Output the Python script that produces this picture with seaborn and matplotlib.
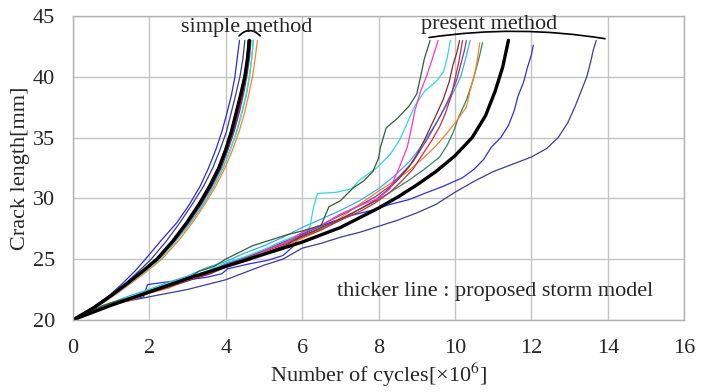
import matplotlib
matplotlib.use("Agg")
import matplotlib.pyplot as plt
import seaborn as sns
import pandas as pd

# ---- simple method: cycles (x10^6) at which each crack length level is reached
simple_levels = [20, 21, 22, 23, 24, 25, 26.5, 28, 29.5, 31, 32.5, 34, 35.5, 37, 38.5, 40, 41.5, 43]
simple_blue = [0, 0.50, 0.95, 1.30, 1.62, 1.90, 2.30, 2.72, 3.05, 3.33, 3.55, 3.74, 3.90, 4.03, 4.15, 4.24, 4.30, 4.36]
simple_navy = [0, 0.52, 0.98, 1.38, 1.72, 2.05, 2.45, 2.80, 3.12, 3.42, 3.66, 3.85, 4.02, 4.14, 4.26, 4.37, 4.45, 4.50]
simple_orange = [0, 0.60, 1.08, 1.52, 1.94, 2.33, 2.76, 3.13, 3.45, 3.74, 3.98, 4.18, 4.35, 4.49, 4.60, 4.70, 4.77, 4.83]
simple_teal = [0, 0.58, 1.05, 1.49, 1.89, 2.28, 2.70, 3.08, 3.41, 3.69, 3.93, 4.12, 4.29, 4.42, 4.54, 4.62, 4.68, 4.72]
simple_purple = [0, 0.55, 1.02, 1.45, 1.85, 2.22, 2.66, 3.02, 3.35, 3.62, 3.86, 4.05, 4.20, 4.33, 4.44, 4.52, 4.58, 4.62]
simple_cyan = [0, 0.57, 1.04, 1.47, 1.88, 2.27, 2.70, 3.06, 3.40, 3.68, 3.92, 4.12, 4.28, 4.41, 4.53, 4.62, 4.68, 4.72]
simple_green = [0, 0.54, 1.00, 1.43, 1.83, 2.20, 2.62, 2.97, 3.28, 3.55, 3.80, 3.98, 4.13, 4.26, 4.38, 4.48, 4.55, 4.60]
simple_brown = [0, 0.56, 1.03, 1.46, 1.86, 2.24, 2.66, 3.03, 3.36, 3.64, 3.88, 4.06, 4.22, 4.35, 4.46, 4.55, 4.62, 4.66]
simple_gray = [0, 0.55, 1.01, 1.44, 1.84, 2.21, 2.63, 2.99, 3.31, 3.59, 3.83, 4.02, 4.17, 4.30, 4.41, 4.50, 4.56, 4.58]
simple_storm = [0, 0.55, 1.00, 1.42, 1.82, 2.20, 2.62, 2.98, 3.30, 3.58, 3.82, 4.00, 4.15, 4.27, 4.39, 4.50, 4.57, 4.62]

# ---- present method: (cycles x10^6, crack length mm) for each simulated history
present_darkgreen = [(0, 20), (0.4, 20.6), (0.8, 21.2), (1.2, 21.6), (1.7, 22.0), (2.2, 22.6), (2.6, 23.0), (3.0, 23.4),
                     (3.3, 24.0), (3.7, 24.4), (4.0, 25.0), (4.7, 26.1), (5.2, 26.6), (5.6, 27.0), (6.1, 27.4),
                     (6.5, 27.8), (6.7, 29.3), (7.0, 29.8), (7.35, 30.9), (7.6, 31.4), (7.85, 32.2), (8.0, 33.3),
                     (8.05, 34.2), (8.2, 35.8), (8.5, 36.6), (8.8, 37.6), (9.0, 38.6), (9.1, 40.0), (9.2, 41.5),
                     (9.35, 43.0)]
present_magenta = [(0, 20), (0.5, 20.7), (1.0, 21.3), (1.5, 21.8), (2.0, 22.3), (2.6, 22.9), (3.1, 23.4), (3.6, 23.9),
                   (4.1, 24.6), (4.6, 25.0), (5.1, 25.8), (5.6, 26.4), (6.0, 27.2), (6.5, 27.8), (7.0, 28.7),
                   (7.5, 29.4), (8.0, 30.0), (8.3, 30.8), (8.55, 32.6), (8.75, 34.2), (8.85, 35.6), (8.95, 37.2),
                   (9.1, 38.8), (9.25, 40.0), (9.4, 41.4), (9.56, 43.0)]
present_cyan = [(0, 20), (0.5, 20.8), (1.0, 21.4), (1.5, 21.9), (2.0, 22.5), (2.5, 23.0), (3.0, 23.5), (3.5, 24.0),
                (4.0, 24.7), (4.5, 25.2), (5.0, 25.8), (5.5, 26.5), (5.9, 27.0), (6.2, 27.6), (6.3, 29.3), (6.4, 30.4),
                (6.9, 30.5), (7.3, 30.8), (7.5, 31.5), (7.95, 32.5), (8.3, 33.6), (8.55, 34.8), (8.75, 36.2),
                (8.95, 37.6), (9.2, 38.8), (9.5, 39.6), (9.7, 40.4), (9.8, 41.6), (9.88, 43.0)]
present_brown = [(0, 20), (0.5, 20.7), (1.0, 21.2), (1.6, 21.8), (2.1, 22.3), (2.6, 22.8), (3.1, 23.3), (3.6, 23.8),
                 (4.1, 24.5), (4.6, 24.9), (5.1, 25.6), (5.6, 26.2), (6.0, 26.9), (6.5, 27.6), (7.0, 28.3),
                 (7.5, 29.1), (7.9, 29.8), (8.2, 30.6), (8.5, 31.5), (8.8, 32.6), (9.0, 33.6), (9.2, 34.8),
                 (9.35, 35.8), (9.5, 36.8), (9.7, 38.2), (9.85, 39.6), (9.95, 41.0), (10.05, 42.0), (10.12, 43.0)]
present_purple = [(0, 20), (0.5, 20.6), (1.0, 21.3), (1.5, 21.7), (2.0, 22.4), (2.5, 22.8), (3.0, 23.5), (3.5, 23.9),
                  (4.0, 24.6), (4.5, 25.1), (5.0, 25.7), (5.5, 26.4), (6.0, 27.0), (6.5, 27.8), (7.0, 28.6),
                  (7.5, 29.4), (7.9, 30.1), (8.3, 31.0), (8.6, 32.0), (8.9, 33.0), (9.1, 34.0), (9.3, 35.0),
                  (9.55, 36.4), (9.75, 37.6), (9.9, 38.6), (10.05, 39.8), (10.15, 41.0), (10.25, 42.2), (10.3, 43.0)]
present_sky = [(0, 20), (0.5, 20.7), (1.0, 21.4), (1.5, 22.0), (2.0, 22.5), (2.5, 23.1), (3.0, 23.6), (3.5, 24.3),
               (4.0, 24.8), (4.5, 25.5), (5.0, 26.1), (5.5, 26.8), (6.0, 27.6), (6.5, 28.3), (7.0, 29.0), (7.5, 29.8),
               (8.0, 30.8), (8.4, 31.8), (8.8, 33.0), (9.1, 34.2), (9.3, 35.2), (9.55, 36.4), (9.8, 37.8),
               (10.0, 39.0), (10.15, 40.0), (10.28, 41.5), (10.4, 43.0)]
present_orange = [(0, 20), (0.5, 20.6), (1.0, 21.2), (1.5, 21.6), (2.0, 22.2), (2.5, 22.6), (3.0, 23.3), (3.5, 23.7),
                  (4.0, 24.3), (4.5, 24.8), (5.0, 25.4), (5.5, 26.0), (6.0, 26.7), (6.5, 27.4), (7.0, 28.4),
                  (7.5, 29.5), (8.0, 30.6), (8.4, 31.4), (8.8, 32.3), (9.2, 33.4), (9.5, 34.3), (9.8, 35.4),
                  (10.05, 36.4), (10.3, 37.5), (10.4, 38.9), (10.5, 40.0), (10.58, 41.3), (10.65, 42.8)]
present_seagreen = [(0, 20), (0.5, 20.7), (1.0, 21.3), (1.5, 21.8), (2.0, 22.4), (2.5, 22.9), (3.0, 23.4), (3.5, 24.0),
                    (4.0, 24.5), (4.5, 25.1), (5.0, 25.7), (5.5, 26.3), (6.0, 26.9), (6.5, 27.5), (7.0, 28.2),
                    (7.5, 29.1), (8.0, 29.9), (8.4, 30.7), (8.8, 31.5), (9.2, 32.4), (9.6, 33.4), (9.8, 34.4),
                    (9.95, 35.4), (10.1, 36.7), (10.3, 38.1), (10.45, 39.5), (10.55, 40.6), (10.65, 41.8),
                    (10.72, 42.8)]
present_crimson = [(0, 20), (0.5, 20.6), (1.0, 21.2), (1.5, 21.8), (2.0, 22.3), (2.5, 22.8), (3.0, 23.4), (3.5, 23.9),
                   (4.0, 24.5), (4.5, 25.0), (5.0, 25.6), (5.5, 26.2), (6.0, 26.8), (6.5, 27.4), (7.0, 28.2),
                   (7.5, 28.9), (7.9, 29.6), (8.3, 30.5), (8.6, 31.4), (8.9, 32.4), (9.15, 33.6), (9.4, 34.8),
                   (9.6, 35.9), (9.75, 37.0), (9.9, 38.4), (10.0, 39.8), (10.1, 41.2), (10.2, 43.0)]
present_blue = [(0, 20), (0.5, 20.7), (1.0, 21.3), (1.5, 21.7), (1.85, 21.9), (1.95, 22.9), (2.4, 23.1), (3.0, 23.3),
                (3.5, 23.5), (3.9, 23.8), (4.05, 24.2), (4.6, 24.6), (5.1, 24.9), (5.5, 25.3), (5.75, 26.0),
                (5.95, 27.0), (6.4, 27.6), (6.8, 28.1), (7.3, 28.6), (7.8, 29.0), (8.3, 29.5), (8.8, 29.9),
                (9.2, 30.4), (9.7, 31.0), (10.2, 31.7), (10.5, 32.4), (10.75, 33.2), (10.95, 34.2), (11.2, 35.0),
                (11.4, 36.0), (11.55, 37.2), (11.65, 38.4), (11.8, 39.6), (11.9, 40.8), (12.0, 41.8), (12.05, 42.6)]
present_navy = [(0, 20), (0.6, 20.8), (1.2, 21.4), (2.0, 21.9), (2.5, 22.2), (3.0, 22.5), (3.5, 22.9), (4.0, 23.3),
                (4.5, 23.9), (5.0, 24.5), (5.5, 25.0), (6.0, 25.9), (6.5, 26.3), (7.0, 26.8), (7.5, 27.2), (8.0, 27.7),
                (8.5, 28.2), (9.0, 28.8), (9.5, 29.5), (10.0, 30.5), (10.5, 31.4), (11.0, 32.2), (11.5, 32.8),
                (12.0, 33.4), (12.4, 34.1), (12.7, 35.0), (12.95, 36.2), (13.15, 37.6), (13.3, 38.8), (13.45, 40.0),
                (13.55, 41.2), (13.62, 42.2), (13.7, 43.0)]
present_storm = [(0, 20), (1, 21.2), (2, 22.3), (3, 23.4), (4, 24.4), (5, 25.4), (6, 26.4), (7, 27.6), (8, 29.2),
                 (8.5, 30.1), (9, 31.1), (9.5, 32.2), (10, 33.5), (10.45, 35.0), (10.8, 36.8), (11.05, 38.8),
                 (11.25, 40.8), (11.4, 43.0)]

x_ticks = [0, 2, 4, 6, 8, 10, 12, 14, 16]
y_ticks = [20, 25, 30, 35, 40, 45]

sns.set_theme(style="whitegrid")
plt.rcParams["font.family"] = ["Liberation Serif", "DejaVu Serif"]
plt.rcParams["mathtext.fontset"] = "stix"

fig = plt.figure(figsize=(7.01, 3.92), dpi=100)
ax = fig.add_axes([0.104, 0.184, 0.872, 0.775])

thin = 0.9
simple_sets = [
    (simple_orange, "#ff7f2a"), (simple_teal, "#20b2aa"), (simple_cyan, "#40e0e0"),
    (simple_brown, "#8b3a3a"), (simple_purple, "#a020a0"), (simple_green, "#2e6b3a"),
    (simple_gray, "#404040"), (simple_navy, "#3b3b9a"), (simple_blue, "#2a2ae0"),
]
for xs, col in simple_sets:
    df = pd.DataFrame({"N": xs, "a": simple_levels})
    sns.lineplot(data=df, x="N", y="a", sort=False, estimator=None, color=col, lw=thin, ax=ax)

present_sets = [
    (present_navy, "#3c3c96"), (present_blue, "#3030d8"), (present_seagreen, "#2e8b57"),
    (present_orange, "#ff7f2a"), (present_sky, "#3fa9f5"), (present_purple, "#8040a0"),
    (present_crimson, "#c0304a"), (present_brown, "#7a3030"), (present_cyan, "#30d8e0"),
    (present_magenta, "#ff33cc"), (present_darkgreen, "#2f5f35"),
]
for pts, col in present_sets:
    df = pd.DataFrame(pts, columns=["N", "a"])
    sns.lineplot(data=df, x="N", y="a", sort=False, estimator=None, color=col, lw=thin, ax=ax)

# proposed storm model: thicker black lines
df = pd.DataFrame({"N": simple_storm, "a": simple_levels})
sns.lineplot(data=df, x="N", y="a", sort=False, estimator=None, color="black", lw=2.4, ax=ax)
df = pd.DataFrame(present_storm, columns=["N", "a"])
sns.lineplot(data=df, x="N", y="a", sort=False, estimator=None, color="black", lw=2.4, ax=ax)

# group labels with curly brackets over the end points
ax.annotate("", xy=(4.95, 43.2), xytext=(4.3, 43.2),
            arrowprops=dict(arrowstyle="-", color="black", lw=1.2, connectionstyle="arc3,rad=-0.6"))
ax.text(4.55, 44.1, "simple method", ha="center", va="center", fontsize=16)
ax.annotate("", xy=(14.0, 43.1), xytext=(9.25, 43.2),
            arrowprops=dict(arrowstyle="-", color="black", lw=1.2, connectionstyle="arc3,rad=-0.08"))
ax.text(10.9, 44.3, "present method", ha="center", va="center", fontsize=16)
ax.text(6.9, 22.3, "thicker line : proposed storm model", ha="left", va="center", fontsize=16)

ax.set_xlim(0, 16)
ax.set_ylim(20, 45)
ax.set_xticks(x_ticks)
ax.set_yticks(y_ticks)
ax.tick_params(axis="both", labelsize=16, length=0)
ax.tick_params(axis="x", pad=14)
ax.tick_params(axis="y", pad=13)
ax.grid(True, color="#c4c4c4", lw=1.0)
for s in ax.spines.values():
    s.set_color("#b0b0b0")
    s.set_linewidth(1.0)
ax.set_xlabel("Number of cycles[×10$^6$]", fontsize=16)
ax.set_ylabel("Crack length[mm]", fontsize=16)
ax.xaxis.set_label_coords(0.5, -0.135)
ax.yaxis.set_label_coords(-0.07, 0.5)

fig.savefig("out.png", dpi=100)
